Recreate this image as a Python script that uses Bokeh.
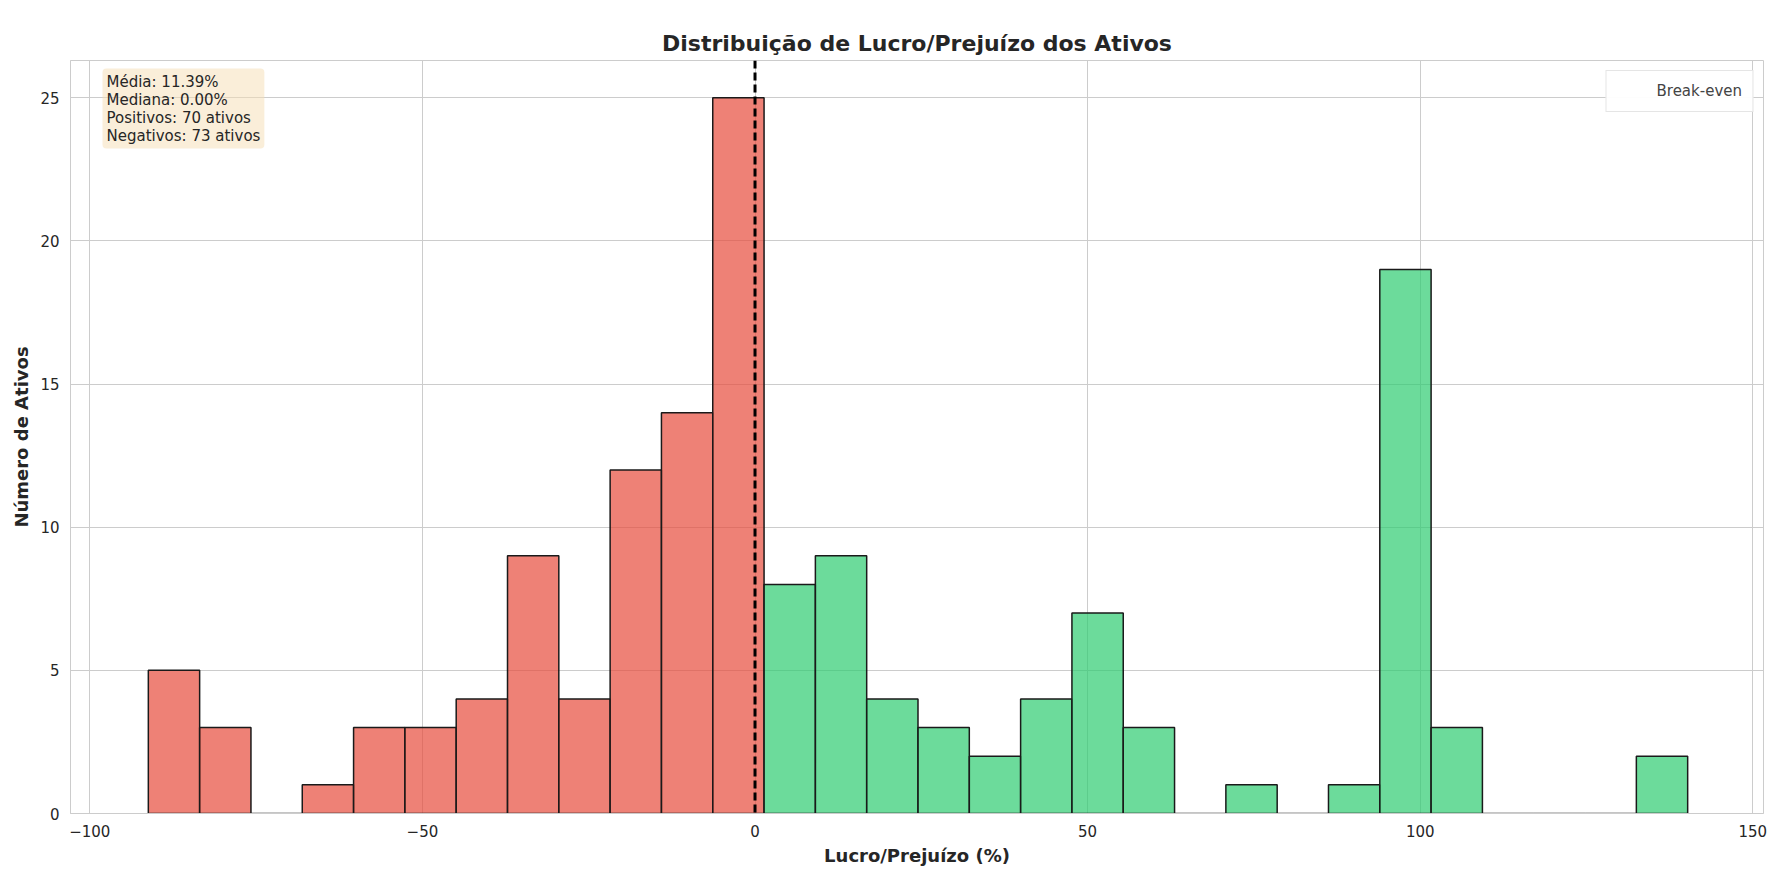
from bokeh.plotting import figure
from bokeh.models import Span, Label, Legend, LegendItem, ColumnDataSource, FixedTicker
from bokeh.embed import file_html
from bokeh.resources import INLINE

# histogram: 30 equal bins from -91.2 to 140.2
bin_lo = -91.2
bin_hi = 140.2
counts = [5, 3, 0, 1, 3, 3, 4, 9, 4, 12, 14, 25,
          8, 9, 4, 3, 2, 4, 7, 3, 0, 1, 0, 1, 19, 3, 0, 0, 0, 2]
n_neg_bins = 12
stats_text = "Média: 11.39%\nMediana: 0.00%\nPositivos: 70 ativos\nNegativos: 73 ativos"

w = (bin_hi - bin_lo) / len(counts)
lefts = [bin_lo + i * w for i in range(len(counts))]
rights = [l + w for l in lefts]
colors = ["#e74c3c" if i < n_neg_bins else "#2ecc71" for i in range(len(counts))]
src = ColumnDataSource(dict(left=lefts, right=rights, top=counts, color=colors))

FONT = "DejaVu Sans"
p = figure(width=1768, height=868, output_backend="svg", toolbar_location=None,
           x_range=(-102.9, 151.6), y_range=(0, 26.3),
           title="Distribuição de Lucro/Prejuízo dos Ativos",
           x_axis_label="Lucro/Prejuízo (%)", y_axis_label="Número de Ativos")
p.min_border_left = 70
p.min_border_top = 60
p.title.align = "center"
p.title.text_font = FONT
p.title.text_font_size = "22px"
p.title.text_color = "#262626"

p.quad(left="left", right="right", bottom=0, top="top", source=src,
       fill_color="color", fill_alpha=0.7, line_color="#1a1a1a", line_width=1.5)

be = p.line([0, 0], [0, 26.3], line_color="black", line_dash="8 4", line_width=3)
p.renderers.remove(be)
p.add_layout(Span(location=0, dimension="height", line_color="black",
                  line_dash="8 4", line_width=3))
p.renderers.append(be)
be.visible = True
be.glyph.line_alpha = 0

legend = Legend(items=[LegendItem(label="Break-even", renderers=[be])], location="top_right")
p.add_layout(legend)
legend.label_text_font = FONT
legend.label_text_font_size = "15px"
legend.border_line_color = "#cccccc"
legend.glyph_width = 35

p.add_layout(Label(x=5, y=5, x_units="screen", y_units="screen", text=""))
lab = Label(x=32, y=26.3, x_units="screen", y_units="data", text=stats_text,
            text_font=FONT, text_font_size="15px", text_color="#262626",
            background_fill_color="wheat", background_fill_alpha=0.5,
            text_baseline="top", x_offset=0, y_offset=-8,
            padding=4, border_radius=4, text_line_height=1.0)
p.add_layout(lab)

p.xaxis.ticker = FixedTicker(ticks=[-100, -50, 0, 50, 100, 150])
p.yaxis.ticker = FixedTicker(ticks=[0, 5, 10, 15, 20, 25])
for ax in (p.xaxis, p.yaxis):
    ax.axis_label_text_font = FONT
    ax.axis_label_text_font_style = "bold"
    ax.axis_label_text_font_size = "18px"
    ax.axis_label_text_color = "#262626"
    ax.major_label_text_font = FONT
    ax.major_label_text_font_size = "15px"
    ax.major_label_text_color = "#262626"
    ax.major_tick_line_color = None
    ax.minor_tick_line_color = None
    ax.axis_line_color = "#cccccc"
p.grid.grid_line_color = "#cccccc"
p.outline_line_color = "#cccccc"
p.outline_line_alpha = 1.0

open("out.html", "w").write(file_html(p, INLINE))
